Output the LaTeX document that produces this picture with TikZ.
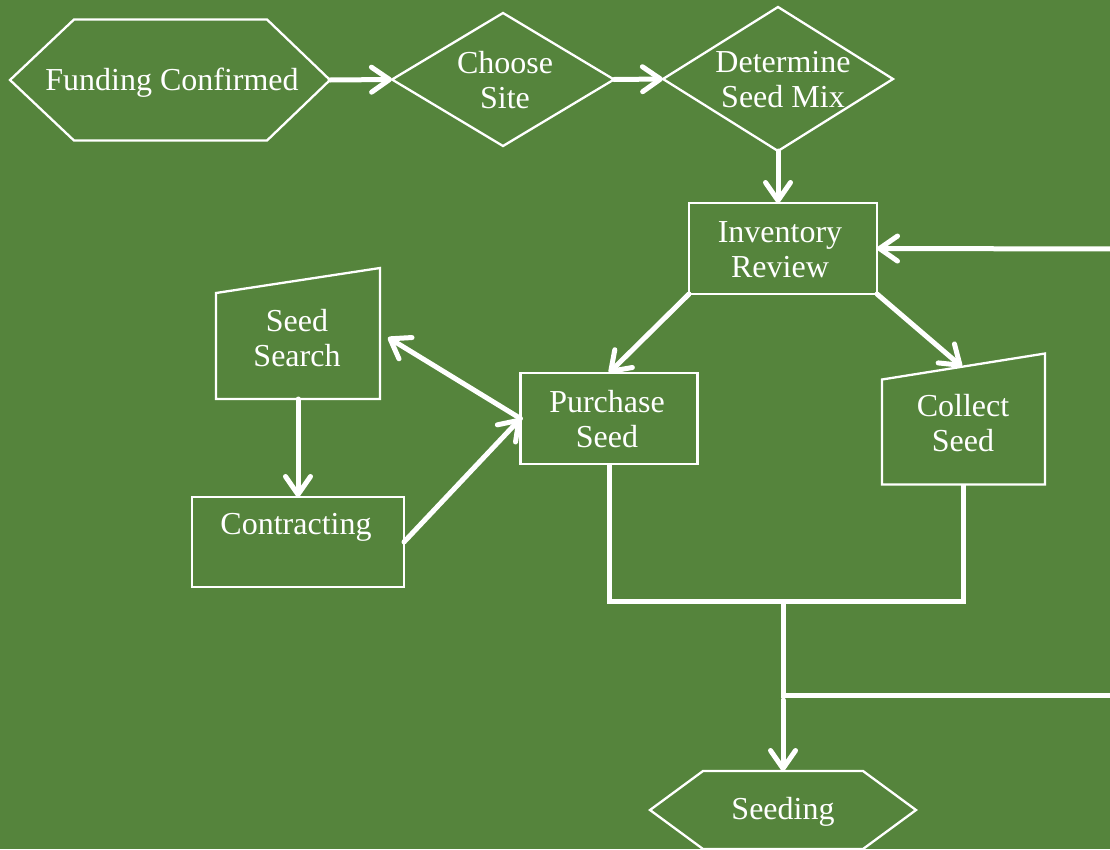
\documentclass[tikz,border=0pt]{standalone}
\usepackage{fontspec}
\setmainfont{Liberation Serif}
\usetikzlibrary{arrows.meta,calc}
\definecolor{bg}{RGB}{85,132,60}
\begin{document}
\begin{tikzpicture}[x=1pt,y=-1pt,
  frame/.style={draw=none,inner sep=0pt,outer sep=0pt,minimum width=#1},
  boxnode/.style={draw=white,line width=2.3pt,inner sep=0pt,outer sep=0pt},
  lbl/.style={text=white,font=\fontsize{32}{35}\selectfont,align=center,inner sep=0pt},
  outline/.style={draw=white,line width=2.3pt,line join=miter},
  wire/.style={draw=white,line width=5pt},
  conn/.style={draw=white,line width=5pt,line cap=round,-{Straight Barb[length=18pt,width=25pt,round]}}]
\useasboundingbox (0,0) rectangle (1110,849);
\fill[bg] (0,0) rectangle (1110,849);
\clip (0,0) rectangle (1110,849);

% frames
\node[frame=320, minimum height=121] (fc) at (170,80) {};
\node[frame=222, minimum height=133] (cs) at (503,79.5) {};
\node[frame=230, minimum height=144] (dm) at (778,79) {};
\node[boxnode, minimum width=188, minimum height=91] (inv) at (783,248.5) {};
\node[frame=164, minimum height=131] (ss) at (298,333.5) {};
\node[boxnode, minimum width=177, minimum height=91] (ps) at (609,418.5) {};
\node[frame=163, minimum height=131] (cl) at (963.5,419) {};
\node[boxnode, minimum width=212, minimum height=90] (ct) at (298,542) {};
\node[frame=266, minimum height=78] (sd) at (783,810) {};

% outlines
\draw[outline] (fc.west) -- ($(fc.north west)+(64,0)$) -- ($(fc.north east)+(-63,0)$) -- (fc.east)
  -- ($(fc.south east)+(-63,0)$) -- ($(fc.south west)+(64,0)$) -- cycle;
\draw[outline] (cs.west) -- (cs.north) -- (cs.east) -- (cs.south) -- cycle;
\draw[outline] (dm.west) -- (dm.north) -- (dm.east) -- (dm.south) -- cycle;
\draw[outline] (ss.south west) -- ($(ss.north west)+(0,25)$) -- (ss.north east) -- (ss.south east) -- cycle;
\draw[outline] (cl.south west) -- ($(cl.north west)+(0,26)$) -- (cl.north east) -- (cl.south east) -- cycle;
\draw[outline] (sd.west) -- ($(sd.north west)+(53,0)$) -- ($(sd.north east)+(-53,0)$) -- (sd.east)
  -- ($(sd.south east)+(-53,0)$) -- ($(sd.south west)+(53,0)$) -- cycle;

% labels
\node[lbl] (fcl) at (172,83) {Funding Confirmed};
\node[lbl] (csl) at (505,80) {Choose\\Site};
\node[lbl] (dml) at (783,80) {Determine\\Seed Mix};
\node[lbl] (invl) at (780,249.5) {Inventory\\Review};
\node[lbl] (ssl) at (297,338) {Seed\\Search};
\node[lbl] (psl) at (607,419.5) {Purchase\\Seed};
\node[lbl] (cll) at (963,423) {Collect\\Seed};
\node[lbl] (ctl) at (296,527) {Contracting};
\node[lbl] (sdl) at (783,812) {Seeding};

% helper coordinates
\coordinate (cltop) at ($($(cl.north west)+(0,26)$)!0.49!(cl.north east)$);
\coordinate (sstip) at ($(ss.east)+(8,4)$);
\coordinate (rin) at (1116,249);
\coordinate (j) at (783,601);
\coordinate (k) at (783,695);
\coordinate (rout) at (1116,695);
\coordinate (k2) at (783,700);

% connectors
\draw[conn] (fc.east) -- (cs.west);
\draw[conn] (cs.east) -- (dm.west);
\draw[conn] (dm.south) -- (dm.south |- inv.north);
\draw[conn] (rin) -- (inv.east);
\draw[conn] (inv.south west) -- (ps.north);
\draw[conn] (inv.south east) -- (cltop);
\draw[conn] (ps.west) -- (sstip);
\draw[conn] (ss.south) -- (ct.north);
\draw[conn] (ct.east) -- (ps.west);
\draw[wire] (ps.south) -- (ps.south |- j) -- (cl.south |- j) -- (cl.south);
\draw[wire] (j) -- (k) -- (rout);
\draw[conn] (k2) -- (sd.north);
\end{tikzpicture}
\end{document}
